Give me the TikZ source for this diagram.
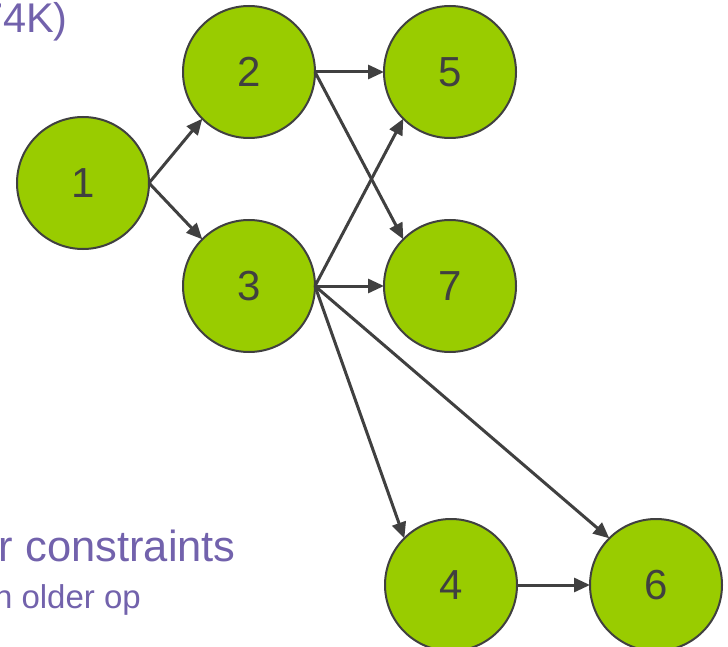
\documentclass[tikz,border=0pt]{standalone}
\usepackage{fontspec}
\setmainfont{Liberation Sans}
\usetikzlibrary{arrows.meta}
\definecolor{nodegreen}{RGB}{153,204,0}
\definecolor{edgegrey}{RGB}{64,64,64}
\definecolor{notepurple}{RGB}{114,98,172}
\begin{document}
\begin{tikzpicture}[x=1pt,y=-1pt,
  opnode/.style={circle,draw=edgegrey,line width=2pt,fill=nodegreen,
    minimum size=132pt,inner sep=0pt,outer sep=0pt,text=edgegrey,
    font=\fontsize{42}{50}\selectfont},
  dep/.style={draw=edgegrey,line width=3pt,
    -{Triangle[length=16pt,width=14pt]}},
  note/.style={text=notepurple,inner sep=0pt,anchor=base east}]
\clip (0,0) rectangle (728,647);
\useasboundingbox (0,0) rectangle (728,647);

% operations
\node[opnode] (n1) at (83,183) {1};
\node[opnode] (n2) at (249,72) {2};
\node[opnode] (n3) at (249,286) {3};
\node[opnode] (n5) at (450,72) {5};
\node[opnode] (n7) at (450,286) {7};
\node[opnode] (n4) at (451,585) {4};
\node[opnode] (n6) at (656,585) {6};

% dependences
\draw[dep] (n1.east) -- (n2.south west);
\draw[dep] (n1.east) -- (n3.north west);
\draw[dep] (n2.east) -- (n5.west);
\draw[dep] (n2.east) -- (n7.north west);
\draw[dep] (n3.east) -- (n5.south west);
\draw[dep] (n3.east) -- (n7.west);
\draw[dep] (n3.east) -- (n4.north west);
\draw[dep] (n3.east) -- (n6.north west);
\draw[dep] (n4.east) -- (n6.west);

% slide text running off the left edge
\node[note,font=\fontsize{41.5}{50}\selectfont] (head) at (68,33) {74K)};
\node[note,font=\fontsize{43.5}{52}\selectfont] (order) at (236,561) {er constraints};
\node[note,font=\fontsize{33}{40}\selectfont] (older) at (141,608) {an older op};
\end{tikzpicture}
\end{document}
